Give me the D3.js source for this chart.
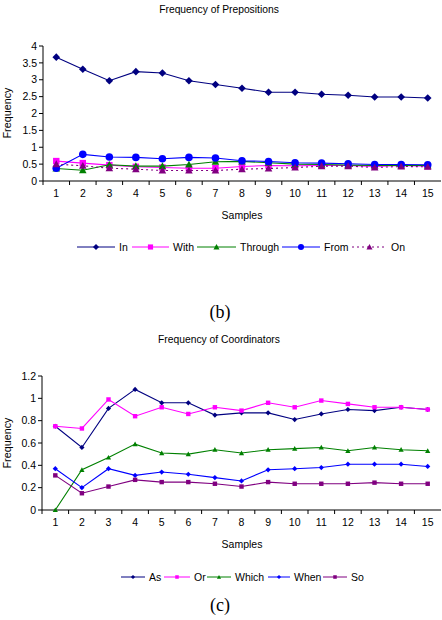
<!DOCTYPE html>
<html>
<head>
<meta charset="utf-8">
<script src="https://cdn.jsdelivr.net/npm/d3@7"></script>
<style>
  body { margin: 0; background: #fff; }
  svg { display: block; font-family: "Liberation Sans", Arial, sans-serif; }
  .caption { font-family: "Liberation Serif", "Times New Roman", serif; }
</style>
</head>
<body>
<svg id="chart" width="442" height="620"></svg>
<script>
'use strict'

const samples = d3.range(1, 16)

// (b) prepositions
const prepIn = [3.67, 3.31, 2.97, 3.24, 3.2, 2.97, 2.86, 2.75, 2.63, 2.63, 2.57, 2.54, 2.49, 2.49, 2.46]
const prepWith = [0.59, 0.53, 0.47, 0.42, 0.4, 0.38, 0.38, 0.43, 0.46, 0.45, 0.46, 0.46, 0.43, 0.46, 0.44]
const prepThrough = [0.37, 0.32, 0.48, 0.44, 0.44, 0.49, 0.57, 0.58, 0.54, 0.5, 0.49, 0.47, 0.46, 0.46, 0.46]
const prepFrom = [0.38, 0.79, 0.71, 0.7, 0.66, 0.7, 0.68, 0.6, 0.58, 0.54, 0.53, 0.51, 0.49, 0.49, 0.48]
const prepOn = [0.5, 0.45, 0.38, 0.35, 0.31, 0.31, 0.31, 0.35, 0.37, 0.4, 0.44, 0.44, 0.4, 0.43, 0.42]
const prepTicks = [0, 0.5, 1, 1.5, 2, 2.5, 3, 3.5, 4]

// (c) coordinators
const coordAs = [0.75, 0.56, 0.91, 1.08, 0.96, 0.96, 0.85, 0.87, 0.87, 0.81, 0.86, 0.9, 0.89, 0.92, 0.9]
const coordOr = [0.75, 0.73, 0.99, 0.84, 0.92, 0.86, 0.92, 0.89, 0.96, 0.92, 0.98, 0.95, 0.92, 0.92, 0.9]
const coordWhich = [0, 0.36, 0.47, 0.59, 0.51, 0.5, 0.54, 0.51, 0.54, 0.55, 0.56, 0.53, 0.56, 0.54, 0.53]
const coordWhen = [0.37, 0.2, 0.37, 0.31, 0.34, 0.32, 0.29, 0.26, 0.36, 0.37, 0.38, 0.41, 0.41, 0.41, 0.39]
const coordSo = [0.31, 0.15, 0.21, 0.27, 0.25, 0.25, 0.235, 0.21, 0.25, 0.235, 0.235, 0.235, 0.245, 0.235, 0.235]
const coordTicks = [0, 0.2, 0.4, 0.6, 0.8, 1, 1.2]

const svg = d3.select('#chart')

// excel-ish marker paths
function marker(shape, r) {
  if (shape === 'diamond') return 'M0,' + (-r) + 'L' + r + ',0L0,' + r + 'L' + (-r) + ',0Z'
  if (shape === 'square') return 'M' + (-r * 0.85) + ',' + (-r * 0.85) + 'h' + (r * 1.7) + 'v' + (r * 1.7) + 'h' + (-r * 1.7) + 'Z'
  if (shape === 'triangle') return 'M0,' + (-r) + 'L' + r + ',' + (r * 0.8) + 'L' + (-r) + ',' + (r * 0.8) + 'Z'
  return d3.symbol(d3.symbolCircle, Math.PI * r * r)()
}

function drawChart(opts) {
  const g = svg.append('g')

  const x = d3.scaleBand().domain(samples).range([opts.left, 441])
  const y = d3.scaleLinear().domain([0, opts.yMax]).range([opts.bottom, opts.top])

  g.append('text')
    .attr('x', 219).attr('y', opts.titleY)
    .attr('text-anchor', 'middle')
    .style('font-size', '10.3px')
    .text(opts.title)

  // y axis
  const yAxis = g.append('g')
  yAxis.append('line')
    .attr('x1', opts.left).attr('x2', opts.left)
    .attr('y1', y(0)).attr('y2', y(opts.yMax))
    .attr('stroke', '#000')
  yAxis.selectAll('.ytick')
      .data(opts.ticks)
    .enter().append('line')
      .attr('x1', opts.left - 4).attr('x2', opts.left)
      .attr('y1', d => y(d)).attr('y2', d => y(d))
      .attr('stroke', '#000')
  yAxis.selectAll('.ylab')
      .data(opts.ticks)
    .enter().append('text')
      .attr('x', opts.left - 6).attr('y', d => y(d))
      .attr('dy', '0.35em')
      .attr('text-anchor', 'end')
      .style('font-size', '10.5px')
      .text(d => String(d))

  // x axis, category style (ticks between samples)
  const xAxis = g.append('g')
  xAxis.append('line')
    .attr('x1', opts.left).attr('x2', 441)
    .attr('y1', y(0)).attr('y2', y(0))
    .attr('stroke', '#000')
  xAxis.selectAll('.xtick')
      .data(samples)
    .enter().append('line')
      .attr('x1', d => x(d)).attr('x2', d => x(d))
      .attr('y1', y(0)).attr('y2', y(0) + 4)
      .attr('stroke', '#000')
  xAxis.selectAll('.xlab')
      .data(samples)
    .enter().append('text')
      .attr('x', d => x(d) + x.bandwidth() / 2)
      .attr('y', y(0) + 16)
      .attr('text-anchor', 'middle')
      .style('font-size', '10.5px')
      .text(d => d)

  g.append('text')
    .attr('x', 242).attr('y', y(0) + 38)
    .attr('text-anchor', 'middle')
    .style('font-size', '10.5px')
    .text('Samples')

  g.append('text')
    .attr('transform', 'translate(11,' + opts.yLabelY + ') rotate(-90)')
    .attr('text-anchor', 'middle')
    .style('font-size', '10.8px')
    .text('Frequency')

  const line = d3.line()
    .x((d, i) => x(samples[i]) + x.bandwidth() / 2)
    .y(d => y(d))

  opts.series.forEach(function(s) {
    g.append('path')
      .datum(s.values)
      .attr('fill', 'none')
      .attr('stroke', s.color)
      .attr('stroke-width', 1.1)
      .attr('stroke-dasharray', s.dash || null)
      .attr('d', line)
    g.selectAll(null)
        .data(s.values)
      .enter().append('path')
        .attr('transform', (d, i) => 'translate(' + (x(samples[i]) + x.bandwidth() / 2) + ',' + y(d) + ')')
        .attr('d', marker(s.shape, opts.markerR))
        .attr('fill', s.color)
  })

  // legend
  opts.series.forEach(function(s) {
    const lg = g.append('g')
    lg.append('line')
      .attr('x1', s.lx[0]).attr('x2', s.lx[1])
      .attr('y1', opts.legendY).attr('y2', opts.legendY)
      .attr('stroke', s.color)
      .attr('stroke-dasharray', s.dash || null)
    lg.append('path')
      .attr('transform', 'translate(' + (s.lx[0] + s.lx[1]) / 2 + ',' + opts.legendY + ')')
      .attr('d', marker(s.shape, opts.markerR * 0.8))
      .attr('fill', s.color)
    lg.append('text')
      .attr('x', s.lx[1] + 4).attr('y', opts.legendY)
      .attr('dy', '0.35em')
      .style('font-size', '10.5px')
      .text(s.name)
  })

  g.append('text')
    .attr('class', 'caption')
    .attr('x', 220).attr('y', opts.captionY)
    .attr('text-anchor', 'middle')
    .style('font-size', '18px')
    .text(opts.caption)
}

drawChart({
  title: 'Frequency of Prepositions',
  titleY: 13,
  left: 43, top: 46, bottom: 181, yMax: 4,
  ticks: prepTicks,
  yLabelY: 113,
  markerR: 3.8,
  legendY: 247,
  caption: '(b)',
  captionY: 318,
  series: [
    { name: 'In', values: prepIn, color: '#000080', shape: 'diamond', lx: [77, 115] },
    { name: 'With', values: prepWith, color: '#ff00ff', shape: 'square', lx: [132, 169] },
    { name: 'Through', values: prepThrough, color: '#008000', shape: 'triangle', lx: [197, 236] },
    { name: 'From', values: prepFrom, color: '#0000ff', shape: 'circle', lx: [282, 320] },
    { name: 'On', values: prepOn, color: '#800080', shape: 'triangle', dash: '2,3', lx: [352, 387] }
  ]
})

drawChart({
  title: 'Frequency of Coordinators',
  titleY: 343,
  left: 42, top: 376, bottom: 510, yMax: 1.2,
  ticks: coordTicks,
  yLabelY: 443,
  markerR: 2.6,
  legendY: 577,
  caption: '(c)',
  captionY: 611,
  series: [
    { name: 'As', values: coordAs, color: '#000080', shape: 'diamond', lx: [121, 145] },
    { name: 'Or', values: coordOr, color: '#ff00ff', shape: 'square', lx: [164, 190] },
    { name: 'Which', values: coordWhich, color: '#008000', shape: 'triangle', lx: [207, 231] },
    { name: 'When', values: coordWhen, color: '#0000ff', shape: 'diamond', lx: [268, 290] },
    { name: 'So', values: coordSo, color: '#800080', shape: 'square', lx: [323, 347] }
  ]
})
</script>
</body>
</html>
